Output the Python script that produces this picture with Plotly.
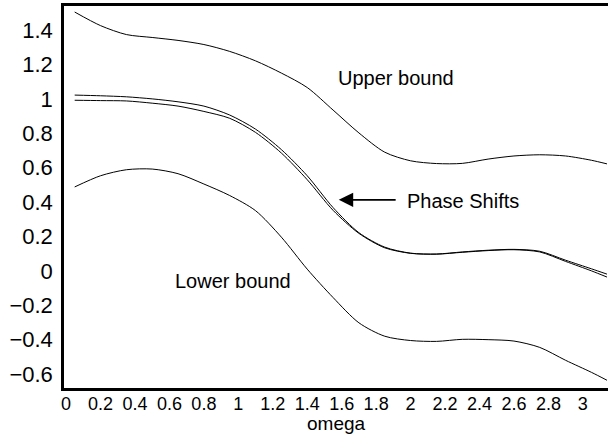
import plotly.graph_objects as go

# omega grid shared by all curves
omega = [0.05, 0.2, 0.35, 0.5, 0.65, 0.8, 0.95, 1.1, 1.25, 1.4, 1.55, 1.7,
         1.85, 2.0, 2.15, 2.3, 2.45, 2.6, 2.75, 2.9, 3.05, 3.14]

upper_bound = [1.505, 1.426, 1.374, 1.357, 1.340, 1.316, 1.276, 1.221, 1.150, 1.066, 0.935, 0.802,
               0.690, 0.640, 0.624, 0.625, 0.650, 0.668, 0.675, 0.668, 0.643, 0.622]
phase_a = [1.022, 1.018, 1.012, 1.000, 0.983, 0.958, 0.906, 0.824, 0.705, 0.553, 0.368, 0.222,
           0.138, 0.103, 0.098, 0.110, 0.120, 0.125, 0.114, 0.062, 0.012, -0.019]
phase_b = [0.992, 0.990, 0.988, 0.975, 0.958, 0.927, 0.887, 0.805, 0.685, 0.530, 0.352, 0.218,
           0.134, 0.102, 0.097, 0.108, 0.118, 0.123, 0.110, 0.055, 0.000, -0.036]
lower_bound = [0.488, 0.553, 0.588, 0.592, 0.565, 0.505, 0.438, 0.350, 0.196, 0.010, -0.155, -0.302,
               -0.380, -0.405, -0.410, -0.398, -0.400, -0.408, -0.445, -0.520, -0.590, -0.636]

font = "Liberation Sans, Arial, Helvetica, sans-serif"

fig = go.Figure()
for ys in [upper_bound, phase_a, phase_b, lower_bound]:
    fig.add_trace(go.Scatter(x=omega, y=ys, mode='lines',
                             line=dict(color='black', width=1, shape='spline', smoothing=0.8),
                             showlegend=False, hoverinfo='skip'))

fig.add_annotation(x=1.918, y=1.122, text="Upper bound", showarrow=False,
                   font=dict(size=20, color='black', family=font))
fig.add_annotation(x=0.968, y=-0.058, text="Lower bound", showarrow=False,
                   font=dict(size=20, color='black', family=font))
fig.add_annotation(x=1.97, y=0.407, text="Phase Shifts", showarrow=False, xanchor='left',
                   font=dict(size=20, color='black', family=font))
# arrow pointing at the phase shift curves
fig.add_annotation(x=1.583, y=0.413, ax=1.922, ay=0.413, axref='x', ayref='y',
                   text="", showarrow=True, arrowhead=2, arrowsize=1.6, arrowwidth=1.8,
                   arrowcolor='black')
# axis title placed by hand so it sits just under the tick labels
fig.add_annotation(x=0.5, y=0, xref='paper', yref='paper', yshift=-23, yanchor='top',
                   text="omega", showarrow=False,
                   font=dict(size=19, color='black', family=font))

fig.update_xaxes(range=[-0.012, 3.146], dtick=0.2, tick0=0, showgrid=False, zeroline=False,
                 showline=True, linecolor='black', linewidth=2.5, mirror=True, ticks='',
                 automargin=False,
                 tickfont=dict(size=18, color='black', family=font), ticklabelstandoff=-2)
fig.update_yaxes(range=[-0.681, 1.540], dtick=0.2, tick0=0, showgrid=False, zeroline=False,
                 showline=True, linecolor='black', linewidth=2.5, mirror=False, ticks='',
                 automargin=False,
                 tickfont=dict(size=22, color='black', family=font), ticklabelstandoff=4)

fig.update_layout(width=608, height=435, margin=dict(l=64, r=0, t=6, b=47),
                  plot_bgcolor='white', paper_bgcolor='white')

fig.write_html("out.html", config={'displayModeBar': False},
               post_script="document.body.style.margin='0';")
